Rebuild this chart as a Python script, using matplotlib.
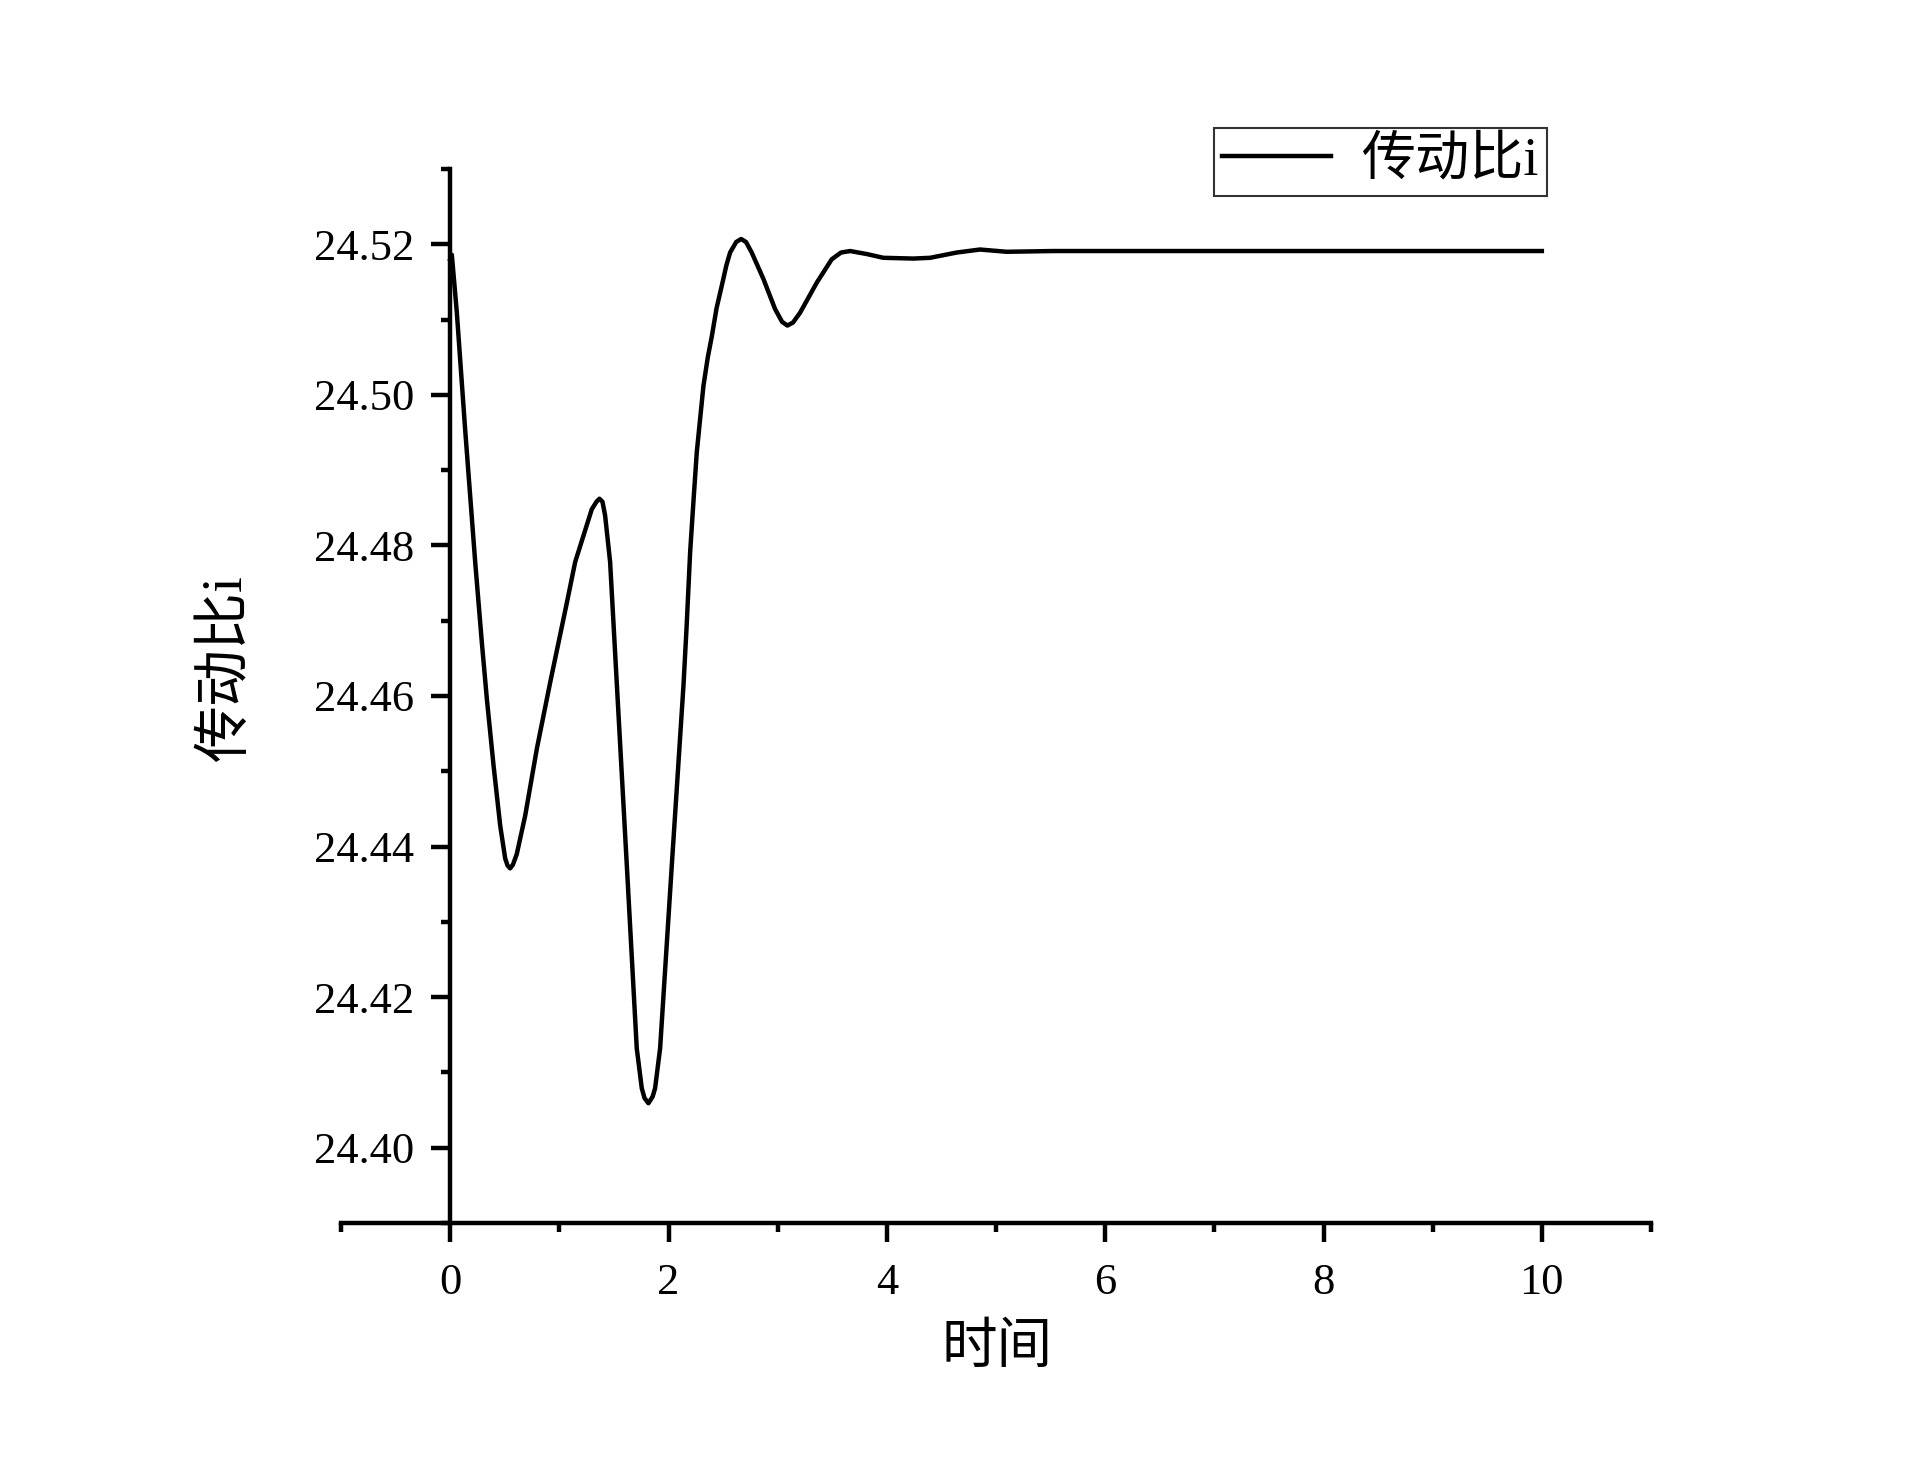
import matplotlib
matplotlib.use("Agg")
import matplotlib.pyplot as plt
from matplotlib.ticker import MultipleLocator, FormatStrFormatter

plt.rcParams['font.family'] = ['Liberation Serif', 'Noto Sans CJK SC', 'DejaVu Sans']

# values
time = [0.000, 0.015, 0.061, 0.137, 0.229, 0.290, 0.336, 0.397, 0.458, 0.504,
        0.525, 0.549, 0.575, 0.610, 0.687, 0.794, 0.916, 1.069, 1.145, 1.221,
        1.297, 1.340, 1.367, 1.395, 1.419, 1.465, 1.534, 1.618, 1.709, 1.755,
        1.780, 1.816, 1.855, 1.877, 1.923, 2.030, 2.137, 2.165, 2.198, 2.230,
        2.259, 2.320, 2.360, 2.397, 2.440, 2.488, 2.530, 2.564, 2.620, 2.665,
        2.710, 2.762, 2.869, 2.976, 3.040, 3.089, 3.140, 3.205, 3.358, 3.495,
        3.580, 3.663, 3.816, 3.968, 4.243, 4.396, 4.640, 4.853, 5.098, 5.520,
        6.5, 7.5, 8.5, 10.0]
ratio = [24.5180, 24.5186, 24.5109, 24.4954, 24.4778, 24.4671, 24.4596, 24.4508, 24.4428, 24.4384,
         24.4375, 24.4371, 24.4376, 24.4390, 24.4441, 24.4530, 24.4618, 24.4724, 24.4778, 24.4813,
         24.4848, 24.4858, 24.4862, 24.4858, 24.4840, 24.4778, 24.4596, 24.4375, 24.4132, 24.4079,
         24.4066, 24.4059, 24.4068, 24.4079, 24.4132, 24.4375, 24.4614, 24.4690, 24.4791, 24.4862,
         24.4924, 24.5012, 24.5050, 24.5078, 24.5115, 24.5145, 24.5172, 24.5189, 24.5203, 24.5207,
         24.5203, 24.5189, 24.5154, 24.5114, 24.5097, 24.5092, 24.5096, 24.5109, 24.5149, 24.5180,
         24.5189, 24.5191, 24.5187, 24.5182, 24.5181, 24.5182, 24.5189, 24.5193, 24.5190, 24.5191,
         24.5191, 24.5191, 24.5191, 24.5191]

series_name = "传动比i"
x_title = "时间"
y_title = "传动比i"


def main():
    fig = plt.figure(figsize=(19.18, 14.68), dpi=100)
    ax = fig.add_axes([0.1778, 0.1669, 0.683, 0.718])

    ax.plot(time, ratio, color="black", linewidth=3.2, label=series_name)

    ax.set_xlim(-1, 11)
    ax.set_ylim(24.39, 24.53)

    ax.spines["top"].set_visible(False)
    ax.spines["right"].set_visible(False)
    ax.spines["left"].set_position(("data", 0))
    for s in ("left", "bottom"):
        ax.spines[s].set_linewidth(3.2)

    ax.xaxis.set_major_locator(MultipleLocator(2))
    ax.xaxis.set_minor_locator(MultipleLocator(1))
    ax.yaxis.set_major_locator(MultipleLocator(0.02))
    ax.yaxis.set_minor_locator(MultipleLocator(0.01))
    ax.yaxis.set_major_formatter(FormatStrFormatter("%.2f"))

    ax.tick_params(which="major", direction="out", length=13.7, width=3.2, labelsize=32)
    ax.tick_params(which="minor", direction="out", length=6.5, width=3.2)
    ax.tick_params(axis="x", which="major", pad=15)
    ax.tick_params(axis="y", which="major", pad=12)

    ax.set_xlabel(x_title, fontsize=40, va="center")
    ax.set_ylabel(y_title, fontsize=41, va="center")
    ax.xaxis.set_label_coords(0.5008, -0.1195)
    ax.yaxis.set_label_coords(-0.0878, 0.527)

    leg = ax.legend(loc="upper right", bbox_to_anchor=(0.9206, 1.039),
                    borderaxespad=0, fontsize=39, frameon=True, fancybox=False,
                    handlelength=2.0, handletextpad=0.56, borderpad=0.16)
    leg.get_frame().set_edgecolor("black")
    leg.get_frame().set_linewidth(1.5)

    fig.savefig("out.png", dpi=100)


if __name__ == "__main__":
    main()
